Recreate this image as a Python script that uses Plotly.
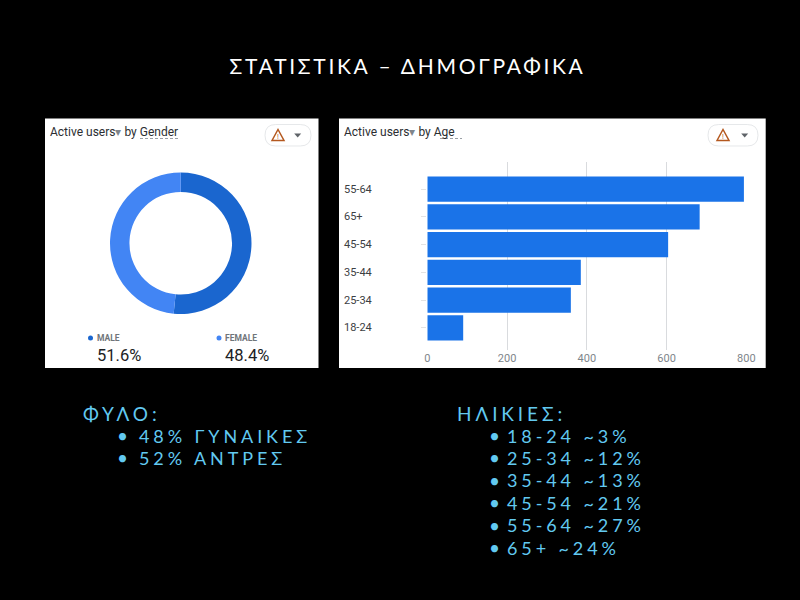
import plotly.graph_objects as go

W, H = 800, 600

# data
genders = ["MALE", "FEMALE"]
gender_share = [51.6, 48.4]
age_order = ["18-24", "25-34", "35-44", "45-54", "65+", "55-64"]
age_order_users = [90, 360, 385, 604, 683, 794]
x_ticks = [0, 200, 400, 600, 800]

title_text = "ΣΤΑΤΙΣΤΙΚΑ – ΔΗΜΟΓΡΑΦΙΚΑ"
gender_head = "ΦΥΛΟ:"
gender_lines = ["48% ΓΥΝΑΙΚΕΣ", "52% ΑΝΤΡΕΣ"]
age_head = "ΗΛΙΚΙΕΣ:"
age_lines = ["18-24 ~3%", "25-34 ~12%", "35-44 ~13%", "45-54 ~21%", "55-64 ~27%", "65+ ~24%"]

MALE_BLUE = "#1a66cf"
FEMALE_BLUE = "#4285f4"
BAR_BLUE = "#1a73e8"
CYAN = "#62c9f0"
SLIDE_FONT = "Lato"
CARD_FONT = "Roboto"


def px(x):
    return x / W


def py(y):
    return 1 - y / H


fig = go.Figure()

# donut
fig.add_trace(go.Pie(
    labels=genders, values=gender_share, hole=0.725, sort=False,
    direction="clockwise", rotation=0, textinfo="none", showlegend=False,
    marker=dict(colors=[MALE_BLUE, FEMALE_BLUE], line=dict(width=0)),
    domain=dict(x=[px(110), px(251.5)], y=[py(314), py(172.5)]),
))

# bars
fig.add_trace(go.Bar(
    x=age_order_users, y=age_order, orientation="h",
    marker=dict(color=BAR_BLUE, line=dict(width=0)), showlegend=False,
))

fig.update_layout(
    width=W, height=H, margin=dict(l=0, r=0, t=0, b=0, autoexpand=False),
    paper_bgcolor="black", plot_bgcolor="rgba(0,0,0,0)", bargap=0.09,
    xaxis=dict(
        domain=[px(427.3), px(746.3)], range=[0, 800], tickvals=x_ticks,
        gridcolor="#d9dbde", gridwidth=1, zeroline=False, showline=False, anchor="y",
        tickfont=dict(family=CARD_FONT, size=11, color="#80868b"), ticks="",
    ),
    yaxis=dict(
        domain=[py(350), py(162)], range=[-0.8, 5.98], type="category",
        categoryorder="array", categoryarray=age_order, showgrid=False,
        zeroline=False, showline=False, ticks="outside", ticklen=5, tickcolor="#e3e3e3",
        showticklabels=False, anchor="x",
    ),
)


def add_text(x, y, text, size, color, family=CARD_FONT, anchor="left"):
    fig.add_annotation(
        xref="paper", yref="paper", x=px(x), y=py(y), text=text, showarrow=False,
        xanchor=anchor, yanchor="middle", align=anchor, borderpad=0, borderwidth=0,
        font=dict(family=family, size=size, color=color),
    )


def add_path(path, **kw):
    fig.add_shape(type="path", path=path, xref="paper", yref="paper", **kw)


def pts(*coords):
    return "M " + " L ".join(f"{px(x):.5f},{py(y):.5f}" for x, y in coords) + " Z"


def rounded(x0, y0, x1, y1):
    # pill shaped outline
    r = (y1 - y0) / 2
    return (f"M {px(x0 + r):.5f},{py(y0):.5f} L {px(x1 - r):.5f},{py(y0):.5f} "
            f"Q {px(x1):.5f},{py(y0):.5f} {px(x1):.5f},{py(y0 + r):.5f} "
            f"Q {px(x1):.5f},{py(y1):.5f} {px(x1 - r):.5f},{py(y1):.5f} "
            f"L {px(x0 + r):.5f},{py(y1):.5f} "
            f"Q {px(x0):.5f},{py(y1):.5f} {px(x0):.5f},{py(y0 + r):.5f} "
            f"Q {px(x0):.5f},{py(y0):.5f} {px(x0 + r):.5f},{py(y0):.5f} Z")


def add_card(x0, x1, title_x, title, under_x0, under_x1, btn_x0, btn_x1, warn_x, caret_x):
    fig.add_shape(type="rect", xref="paper", yref="paper", layer="below",
                  x0=px(x0), x1=px(x1), y0=py(368), y1=py(118.5),
                  fillcolor="white", line=dict(width=0))
    add_text(title_x, 131.5, title, 12, "#2b2e31")
    fig.add_shape(type="line", xref="paper", yref="paper",
                  x0=px(under_x0), x1=px(under_x1), y0=py(138.5), y1=py(138.5),
                  line=dict(color="#9aa0a6", width=1, dash="3px,2px"))
    add_path(rounded(btn_x0, 124.5, btn_x1, 146), line=dict(color="#e6e8ea", width=1))
    add_path(pts((warn_x - 6, 140.5), (warn_x, 129.5), (warn_x + 6, 140.5)),
             line=dict(color="#b4581f", width=1.5))
    add_text(warn_x, 136.5, "!", 7, "#b4581f", anchor="center")
    add_path(pts((caret_x - 3.5, 133.5), (caret_x + 3.5, 133.5), (caret_x, 137.5)),
             fillcolor="#5f6368", line=dict(width=0))


ARROW = "<span style='color:#80868b'>▾</span>"
add_card(45, 318.5, 50, f"Active users{ARROW} by Gender", 140, 179, 265, 311, 278, 297.7)
add_card(339, 765.7, 343.5, f"Active users{ARROW} by Age", 440, 462, 708, 758, 723, 744.7)

# age labels, same order as the bars
for row, name in enumerate(age_order):
    fig.add_annotation(
        xref="paper", yref="y", x=px(343.5), y=row, text=name, showarrow=False,
        xanchor="left", yanchor="middle", borderpad=0, borderwidth=0,
        font=dict(family=CARD_FONT, size=11, color="#3c4043"),
    )

# donut legend
for name, share, dot_x, text_x in zip(genders, gender_share, [90.5, 219], [97, 225]):
    fig.add_shape(type="circle", xref="paper", yref="paper",
                  x0=px(dot_x - 2.5), x1=px(dot_x + 2.5), y0=py(340.5), y1=py(335.5),
                  fillcolor=MALE_BLUE if name == "MALE" else FEMALE_BLUE, line=dict(width=0))
    add_text(text_x, 338, f"<b>{name}</b>", 8.5, "#70757a")
    add_text(text_x, 355, f"{share}%", 16.5, "#202124")

# slide text
add_text(407.5, 65, title_text, 21, "white", SLIDE_FONT, "center")


def add_block(head, lines, head_x, dot_x, text_x):
    add_text(head_x, 413, head, 19, CYAN, SLIDE_FONT)
    for i, line in enumerate(lines):
        y = 435.5 + i * 22.4
        add_text(dot_x, y, "•", 19, CYAN, SLIDE_FONT, "center")
        add_text(text_x, y, line, 18, CYAN, SLIDE_FONT)


add_block(gender_head, gender_lines, 83, 124, 139)
add_block(age_head, age_lines, 457, 496, 507)

# plotly has no letter spacing option, the slide text needs it; also drop the page margin
page_fix = """
var s = document.createElement('style');
s.textContent = "html,body{margin:0;padding:0;overflow:hidden;background:black}"
  + ".annotation-text[style*='Lato']{letter-spacing:3.9px}"
  + ".annotation-text[style*='font-size: 21px']{letter-spacing:2.7px}";
document.head.appendChild(s);
"""
fig.write_html("out.html", post_script=page_fix, config=dict(displayModeBar=False))
